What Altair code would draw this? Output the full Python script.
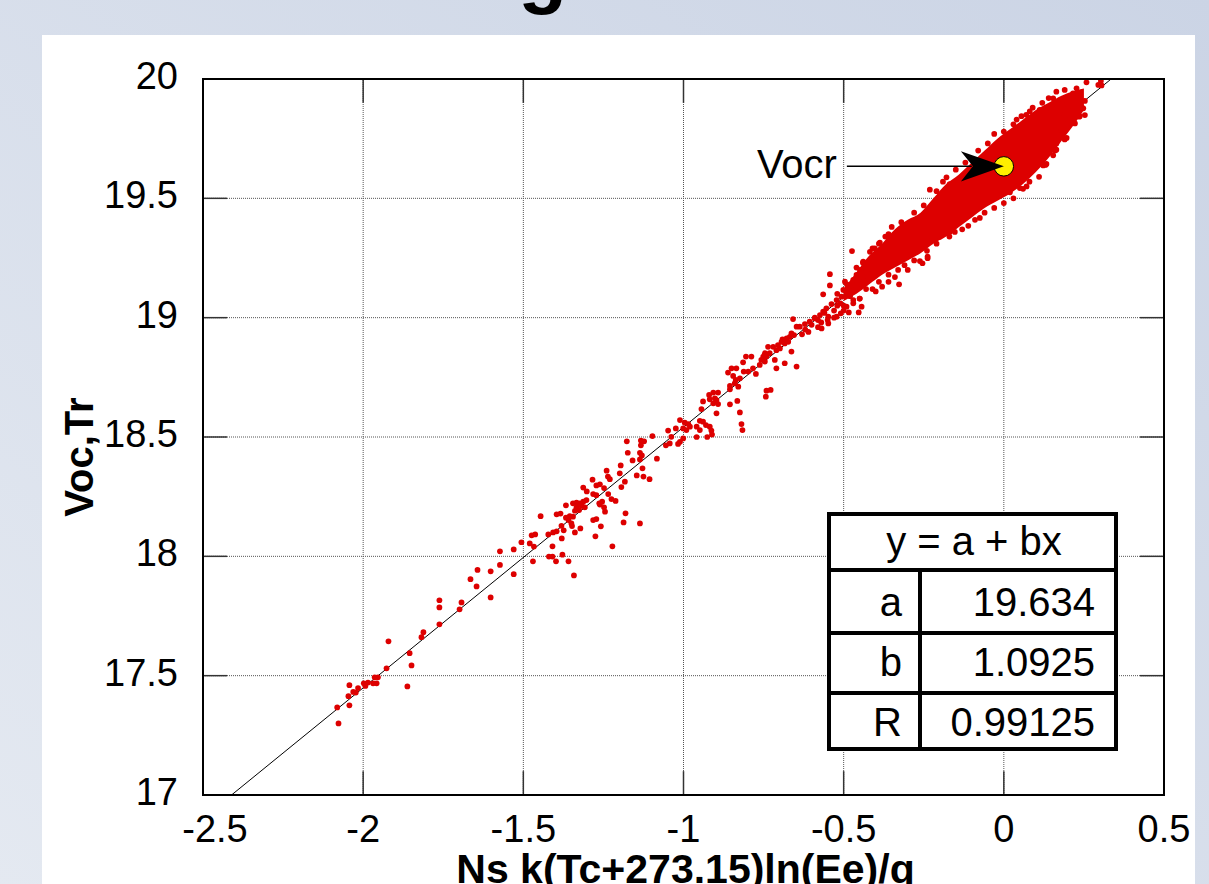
import altair as alt
import pandas as pd

# ---------------- data ----------------
x_ticks = [-2.5, -2.0, -1.5, -1.0, -0.5, 0.0, 0.5]
y_ticks = [17.0, 17.5, 18.0, 18.5, 19.0, 19.5, 20.0]
x_tick_labels = ["-2.5", "-2", "-1.5", "-1", "-0.5", "0", "0.5"]
y_tick_labels = ["17", "17.5", "18", "18.5", "19", "19.5", "20"]
x_title = "Ns k(Tc+273.15)ln(Ee)/q"
y_title = "Voc,Tr"
page_title = "Voc Regression"
fit_eq = "y = a + bx"
fit_names = ["a", "b", "R"]
fit_values = ["19.634", "1.0925", "0.99125"]
fit_a = 19.634
fit_b = 1.0925
vocr_label = "Vocr"
vocr_x = 0.0
vocr_y = 19.634

tail_pts = [
    (-1.573, 17.964), (-1.643, 17.943), (-1.602, 17.937), (-1.665, 17.904), (-1.646, 17.874),
    (-1.602, 17.828), (-1.762, 17.816), (-1.762, 17.786), (-1.693, 17.807), (-1.699, 17.778),
    (-1.762, 17.715), (-1.812, 17.682), (-1.818, 17.661), (-1.921, 17.644), (-1.855, 17.594),
    (-1.849, 17.543), (-1.927, 17.531), (-1.862, 17.455), (-1.964, 17.493), (-1.954, 17.493),
    (-1.998, 17.468), (-1.985, 17.471), (-1.969, 17.468), (-1.958, 17.468), (-1.993, 17.457),
    (-2.016, 17.448), (-2.031, 17.432), (-2.023, 17.429), (-2.043, 17.460), (-2.046, 17.414),
    (-2.043, 17.376), (-2.081, 17.367), (-2.077, 17.300),
]

lower_pts = [
    (-1.097, 18.504), (-1.133, 18.485), (-1.123, 18.482), (-1.177, 18.482), (-1.133, 18.465),
    (-1.136, 18.434), (-1.130, 18.423), (-1.174, 18.434), (-1.159, 18.402), (-1.136, 18.406),
    (-1.083, 18.409), (-1.128, 18.369), (-1.196, 18.381), (-1.240, 18.359), (-1.236, 18.334),
    (-1.230, 18.323), (-1.199, 18.348), (-1.146, 18.339), (-1.125, 18.334), (-1.106, 18.323),
    (-1.183, 18.313), (-1.284, 18.321), (-1.194, 18.290), (-1.313, 18.288), (-1.302, 18.272),
    (-1.272, 18.297), (-1.261, 18.302), (-1.248, 18.286), (-1.235, 18.261), (-1.282, 18.261),
    (-1.272, 18.256), (-1.225, 18.240), (-1.212, 18.232), (-1.254, 18.229), (-1.263, 18.222),
    (-1.248, 18.205), (-1.245, 18.187), (-1.261, 18.217), (-1.303, 18.236), (-1.313, 18.229),
    (-1.324, 18.222), (-1.334, 18.225), (-1.345, 18.222), (-1.318, 18.211), (-1.308, 18.205),
    (-1.326, 18.194), (-1.339, 18.191), (-1.334, 18.205), (-1.367, 18.214), (-1.396, 18.176),
    (-1.384, 18.179), (-1.367, 18.162), (-1.355, 18.169), (-1.345, 18.166), (-1.359, 18.152),
    (-1.350, 18.138), (-1.348, 18.127), (-1.339, 18.100), (-1.381, 18.128), (-1.374, 18.109),
    (-1.396, 18.105), (-1.407, 18.100), (-1.422, 18.092), (-1.282, 18.152), (-1.272, 18.156),
    (-1.258, 18.126), (-1.275, 18.084), (-1.181, 18.180), (-1.187, 18.142), (-1.136, 18.138),
    (-1.222, 18.042), (-1.322, 18.117), (-1.446, 18.168), (-1.463, 18.092), (-1.474, 18.088),
    (-1.380, 18.075), (-1.409, 18.042), (-1.506, 18.059), (-1.480, 18.054), (-1.467, 18.041),
    (-1.530, 18.029), (-1.573, 18.021), (-1.420, 17.999), (-1.409, 17.999), (-1.398, 17.979),
    (-1.378, 18.007), (-1.359, 17.979), (-1.342, 17.920), (-1.470, 17.979), (-1.530, 17.925),
]

mid_pts = [
    (-0.658, 18.994), (-0.647, 18.962), (-0.663, 18.934), (-0.655, 18.927), (-0.668, 18.920),
    (-0.678, 18.913), (-0.691, 18.909), (-0.673, 18.899), (-0.694, 18.899), (-0.684, 18.892),
    (-0.705, 18.885), (-0.720, 18.878), (-0.736, 18.878), (-0.699, 18.871), (-0.710, 18.864),
    (-0.663, 18.858), (-0.731, 18.851), (-0.746, 18.851), (-0.751, 18.837), (-0.741, 18.837),
    (-0.757, 18.823), (-0.746, 18.816), (-0.762, 18.802), (-0.715, 18.823), (-0.684, 18.809),
    (-0.647, 18.795), (-0.710, 18.788), (-0.788, 18.837), (-0.805, 18.837), (-0.814, 18.813),
    (-0.783, 18.788), (-0.798, 18.774), (-0.812, 18.774), (-0.774, 18.764), (-0.835, 18.788),
    (-0.850, 18.788), (-0.861, 18.770), (-0.845, 18.756), (-0.837, 18.739), (-0.824, 18.746),
    (-0.840, 18.725), (-0.855, 18.714), (-0.855, 18.700), (-0.829, 18.711), (-0.892, 18.686),
    (-0.907, 18.686), (-0.920, 18.676), (-0.902, 18.662), (-0.918, 18.658), (-0.897, 18.655),
    (-0.892, 18.638), (-0.907, 18.641), (-0.939, 18.649), (-0.944, 18.617), (-0.897, 18.599),
    (-0.855, 18.637), (-0.832, 18.651), (-0.824, 18.603), (-0.819, 18.554), (-0.816, 18.529),
    (-0.741, 18.694), (-0.728, 18.697), (-0.743, 18.669), (-1.011, 18.571), (-0.996, 18.560),
    (-0.985, 18.554), (-0.980, 18.543), (-0.991, 18.529), (-1.001, 18.536), (-0.949, 18.568),
    (-0.939, 18.564), (-0.930, 18.550), (-0.959, 18.543), (-0.949, 18.529), (-0.918, 18.543),
    (-0.913, 18.527), (-0.911, 18.510), (-0.926, 18.500), (-0.959, 18.500), (-1.001, 18.494),
    (-1.038, 18.501), (-1.048, 18.527), (-1.024, 18.536), (-1.011, 18.480), (-1.017, 18.471),
    (-1.043, 18.473), (-1.055, 18.465),
]

upper_pts = [
    (-0.543, 19.182), (-0.543, 19.135), (-0.564, 19.098), (-0.474, 19.279), (-0.444, 19.046),
    (-0.453, 19.022), (-0.484, 19.022), (-0.509, 19.018), (-0.327, 19.140), (-0.262, 19.237),
    (-0.238, 19.249), (-0.254, 19.228), (-0.200, 19.339), (-0.215, 19.346), (-0.236, 19.321),
    (-0.637, 18.962), (-0.621, 18.973), (-0.606, 18.983), (-0.590, 18.997), (-0.574, 19.011),
    (-0.564, 19.025), (-0.580, 18.990), (-0.554, 19.039), (-0.538, 19.057), (-0.522, 19.074),
    (-0.507, 19.088), (-0.501, 19.116), (-0.491, 19.102), (-0.486, 19.133), (-0.470, 19.158),
    (-0.460, 19.179), (-0.449, 19.200), (-0.439, 19.235), (-0.429, 19.221), (-0.418, 19.276),
    (-0.403, 19.290), (-0.387, 19.314), (-0.569, 18.955), (-0.548, 18.976), (-0.522, 19.004),
    (-0.491, 19.046), (-0.470, 19.074), (-0.548, 19.004), (-0.496, 19.151), (-0.325, 19.256),
    (-0.238, 19.256),
    (-0.62, 18.95), (-0.60, 18.97), (-0.59, 19.00), (-0.57, 18.98), (-0.56, 19.02),
    (-0.53, 19.03), (-0.52, 19.05), (-0.51, 19.06), (-0.50, 19.05), (-0.48, 19.09),
    (-0.47, 19.11), (-0.46, 19.13), (-0.45, 19.15), (-0.44, 19.17), (-0.43, 19.19),
    (-0.42, 19.18), (-0.63, 18.93), (-0.61, 18.94), (-0.58, 18.96), (-0.55, 18.99),
    (-0.53, 19.00), (-0.50, 19.03), (-0.47, 19.06), (-0.45, 19.08), (-0.43, 19.12),
    (-0.52, 19.10), (-0.49, 19.14), (-0.46, 19.21), (-0.40, 19.11), (-0.38, 19.13),
    (-0.36, 19.15), (-0.34, 19.17), (-0.30, 19.20), (-0.39, 19.31), (-0.36, 19.35),
]

cluster_pts = [
    (-0.231, 19.536), (-0.179, 19.588), (-0.169, 19.560), (-0.075, 19.418), (-0.111, 19.385),
    (-0.153, 19.359), (-0.169, 19.359), (0.019, 19.525), (0.050, 19.543), (0.071, 19.550),
    (0.091, 19.620), (0.123, 19.638), (0.133, 19.644), (0.154, 19.680), (0.164, 19.704),
    (0.164, 19.746), (0.196, 19.753), (-0.001, 19.524), (0.258, 19.986), (0.303, 19.992),
    (0.295, 19.975), (0.227, 19.961), (0.164, 19.947), (0.190, 19.954), (0.216, 19.940),
    (0.222, 19.905), (0.253, 19.908), (0.248, 19.877), (0.253, 19.849), (0.235, 19.842),
    (0.222, 19.814), (0.201, 19.814), (0.190, 19.747), (0.180, 19.786), (0.183, 19.765),
    (0.164, 19.730), (0.159, 19.703), (0.175, 19.856), (0.201, 19.884), (0.185, 19.912),
    (0.154, 19.919), (0.305, 19.973), (0.206, 19.844), (0.237, 19.844), (0.245, 19.879),
    (0.227, 19.941), (0.170, 19.871), (0.112, 19.871), (0.081, 19.864), (0.055, 19.844),
    (0.133, 19.880), (0.154, 19.895),
]

edge_pts = [
    (-0.44, 19.23), (-0.41, 19.29), (-0.37, 19.34), (-0.35, 19.38), (-0.32, 19.40),
    (-0.28, 19.44), (-0.25, 19.47), (-0.21, 19.53), (-0.19, 19.57), (-0.15, 19.62),
    (-0.12, 19.65), (-0.08, 19.70), (-0.05, 19.73), (-0.03, 19.77), (0.00, 19.78),
    (0.03, 19.81), (0.04, 19.83), (0.07, 19.85), (0.09, 19.88), (0.12, 19.90),
    (0.14, 19.92), (-0.45, 19.08), (-0.41, 19.12), (-0.39, 19.15), (-0.36, 19.18),
    (-0.33, 19.20), (-0.31, 19.22), (-0.28, 19.24), (-0.24, 19.28), (-0.21, 19.31),
    (-0.17, 19.34), (-0.13, 19.37), (-0.09, 19.41), (-0.06, 19.44), (-0.03, 19.46),
    (0.00, 19.48), (0.03, 19.50), (0.06, 19.54), (0.08, 19.57), (0.11, 19.59),
    (0.13, 19.64), (0.16, 19.70), (0.19, 19.75),
]

# dense (solid) core of the cloud: lower / upper edge
band_x = [-0.50, -0.46, -0.42, -0.38, -0.34, -0.30, -0.26, -0.22, -0.18,
          -0.14, -0.10, -0.06, -0.02, 0.02, 0.06, 0.10, 0.14, 0.18, 0.22, 0.25]
band_lo = [19.07, 19.10, 19.14, 19.18, 19.21, 19.24, 19.27, 19.31, 19.34,
           19.38, 19.42, 19.46, 19.49, 19.52, 19.56, 19.61, 19.67, 19.74, 19.81, 19.87]
band_hi = [19.12, 19.19, 19.26, 19.31, 19.37, 19.41, 19.44, 19.50, 19.56,
           19.60, 19.65, 19.70, 19.75, 19.79, 19.83, 19.87, 19.90, 19.93, 19.95, 19.96]

# ---------------- layout / style constants ----------------
W, H = 961, 716
PAD_L, PAD_T = 203, 79
FONT = "Liberation Sans"
RED = "#dd0000"
x_tick_len = 0.075   # inner tick length in x units (about 24 px)
y_tick_len = 0.10    # inner tick length in y units (about 24 px)

xs = alt.Scale(domain=[x_ticks[0], x_ticks[-1]], nice=False, zero=False)
ys = alt.Scale(domain=[y_ticks[0], y_ticks[-1]], nice=False, zero=False)


def X(f, **kw):
    return alt.X(f, type="quantitative", scale=xs, axis=None, **kw)


def Y(f, **kw):
    return alt.Y(f, type="quantitative", scale=ys, axis=None, **kw)


one = pd.DataFrame({"k": [0]})

# background of the slide (gradient) and white panel
bg = alt.Chart(one).mark_rect(
    color=alt.Gradient(
        gradient="linear",
        stops=[alt.GradientStop(offset=0, color="#cbd4e5"),
               alt.GradientStop(offset=1, color="#e4e9f1")],
        x1=1, y1=0, x2=0, y2=1,
    )
).encode(x=alt.value(-PAD_L), x2=alt.value(1209 - PAD_L + 5),
         y=alt.value(-PAD_T), y2=alt.value(884 - PAD_T + 5))

panel = alt.Chart(one).mark_rect(color="white").encode(
    x=alt.value(42 - PAD_L), x2=alt.value(1195 - PAD_L),
    y=alt.value(35 - PAD_T), y2=alt.value(884 - PAD_T + 5))

title_txt = alt.Chart(one).mark_text(
    text=page_title, font=FONT, fontSize=80, fontWeight="bold", color="black",
    align="left", baseline="alphabetic"
).encode(x=alt.value(253 - PAD_L), y=alt.value(-2 - PAD_T))

# grid lines (dotted)
gx = pd.DataFrame({"gx": x_ticks[1:-1], "y0": y_ticks[0], "y1": y_ticks[-1]})
gy = pd.DataFrame({"gy": y_ticks[1:-1], "x0": x_ticks[0], "x1": x_ticks[-1]})
grid_x = alt.Chart(gx).mark_rule(color="#555555", strokeWidth=1, strokeDash=[1, 1]).encode(
    x=X("gx"), y=Y("y0"), y2="y1")
grid_y = alt.Chart(gy).mark_rule(color="#555555", strokeWidth=1, strokeDash=[1, 1]).encode(
    y=Y("gy"), x=X("x0"), x2="x1")

# inner solid ticks on the four sides
tk_top = pd.DataFrame({"gx": x_ticks[1:-1], "a": y_ticks[-1] - y_tick_len, "b": y_ticks[-1]})
tk_bot = pd.DataFrame({"gx": x_ticks[1:-1], "a": y_ticks[0], "b": y_ticks[0] + y_tick_len})
tk_lef = pd.DataFrame({"gy": y_ticks[1:-1], "a": x_ticks[0], "b": x_ticks[0] + x_tick_len})
tk_rig = pd.DataFrame({"gy": y_ticks[1:-1], "a": x_ticks[-1] - x_tick_len, "b": x_ticks[-1]})
tick_style = dict(color="#333333", strokeWidth=1.5)
ticks_v = [alt.Chart(d).mark_rule(**tick_style).encode(x=X("gx"), y=Y("a"), y2="b")
           for d in (tk_top, tk_bot)]
ticks_h = [alt.Chart(d).mark_rule(**tick_style).encode(y=Y("gy"), x=X("a"), x2="b")
           for d in (tk_lef, tk_rig)]

# tick labels and axis titles (placed through the scales)
xl_df = pd.DataFrame({"v": x_ticks[1:], "t": x_tick_labels[1:]})
xl0_df = pd.DataFrame({"v": x_ticks[:1], "t": x_tick_labels[:1]})
yl_df = pd.DataFrame({"v": y_ticks, "t": y_tick_labels})
xlab_style = dict(font=FONT, fontSize=38, color="black", align="center", baseline="alphabetic")
x_labels = alt.Chart(xl_df).mark_text(**xlab_style).encode(
    x=X("v"), y=alt.value(H + 47), text="t:N")
x_label0 = alt.Chart(xl0_df).mark_text(dx=12, **xlab_style).encode(
    x=X("v"), y=alt.value(H + 47), text="t:N")
y_labels = alt.Chart(yl_df).mark_text(
    font=FONT, fontSize=38, color="black", align="right", baseline="alphabetic", dy=10
).encode(y=Y("v"), x=alt.value(-25), text="t:N")
x_title_txt = alt.Chart(one).mark_text(
    text=x_title, font=FONT, fontSize=41, fontWeight="bold", color="black",
    align="center", baseline="alphabetic"
).encode(x=alt.value(W / 2 + 2), y=alt.value(H + 88))
y_title_txt = alt.Chart(one).mark_text(
    text=y_title, font=FONT, fontSize=40, fontWeight="bold", color="black",
    align="center", baseline="alphabetic", angle=270
).encode(x=alt.value(-110), y=alt.value(378))

# regression line
fit_df = pd.DataFrame({"x": [x_ticks[0], x_ticks[-1]]})
fit_df["y"] = fit_a + fit_b * fit_df["x"]
fit_line = alt.Chart(fit_df).mark_line(color="black", strokeWidth=1, clip=True).encode(
    x=X("x"), y=Y("y"))

# dense core
band_df = pd.DataFrame({"x": band_x, "lo": band_lo, "hi": band_hi})
band = alt.Chart(band_df).mark_area(color=RED, opacity=1, interpolate="monotone").encode(
    x=X("x"), y=Y("lo"), y2="hi")

# scatter points
all_pts = tail_pts + lower_pts + mid_pts + upper_pts + cluster_pts + edge_pts
pts_df = pd.DataFrame(all_pts, columns=["x", "y"])
points = alt.Chart(pts_df).mark_circle(color=RED, size=33, opacity=1).encode(
    x=X("x"), y=Y("y"))

# Vocr annotation
vocr_df = pd.DataFrame({"x": [vocr_x], "y": [vocr_y]})
arrow_shaft = pd.DataFrame({"x": [vocr_x - 0.49], "x2": [vocr_x - 0.10], "y": [vocr_y]})
shaft = alt.Chart(arrow_shaft).mark_rule(color="black", strokeWidth=1.5).encode(
    x=X("x"), x2="x2", y=Y("y"))
circle = alt.Chart(vocr_df).mark_point(
    shape="circle", filled=True, fill="#ffee00", stroke="black", strokeWidth=1,
    size=380, opacity=1).encode(x=X("x"), y=Y("y"))
arrow_df = pd.DataFrame({"x": [vocr_x - 0.067], "y": [vocr_y]})
arrow_head = alt.Chart(arrow_df).mark_point(
    shape="M1,0 L-1,-0.7 L-0.44,0 L-1,0.7 Z", filled=True, color="black",
    size=1849, opacity=1).encode(x=X("x"), y=Y("y"))
label_df = pd.DataFrame({"x": [vocr_x - 0.521], "y": [vocr_y], "t": [vocr_label]})
vocr_text = alt.Chart(label_df).mark_text(
    font=FONT, fontSize=40, color="black", align="right", baseline="alphabetic", dy=12
).encode(x=X("x"), y=Y("y"), text="t:N")

# fit table (pixel layout inside the plot)
T_L, T_R, T_T, T_B = 626, 913, 435, 670
ROW_Y = [491, 554, 614]
COL_X = 717
table_box = alt.Chart(one).mark_rect(fill="white", stroke="black", strokeWidth=4).encode(
    x=alt.value(T_L), x2=alt.value(T_R), y=alt.value(T_T), y2=alt.value(T_B))
hl_df = pd.DataFrame({"y": ROW_Y})
hlines = alt.Chart(hl_df).mark_rule(color="black", strokeWidth=4).encode(
    y=alt.Y("y:Q", scale=None, axis=None), x=alt.value(T_L), x2=alt.value(T_R))
vline = alt.Chart(one).mark_rule(color="black", strokeWidth=4).encode(
    x=alt.value(COL_X), y=alt.value(ROW_Y[0]), y2=alt.value(T_B))
head_df = pd.DataFrame({"t": [fit_eq]})
head_txt = alt.Chart(head_df).mark_text(
    font=FONT, fontSize=40, color="black", align="center", baseline="alphabetic"
).encode(x=alt.value(771), y=alt.value(476), text="t:N")
rows_df = pd.DataFrame({"name": fit_names, "val": fit_values, "py": [537, 597, 657]})
name_txt = alt.Chart(rows_df).mark_text(
    font=FONT, fontSize=40, color="black", align="right", baseline="alphabetic"
).encode(x=alt.value(699), y=alt.Y("py:Q", scale=None, axis=None), text="name:N")
val_txt = alt.Chart(rows_df).mark_text(
    font=FONT, fontSize=40, color="black", align="right", baseline="alphabetic"
).encode(x=alt.value(892), y=alt.Y("py:Q", scale=None, axis=None), text="val:N")

# plot frame
frame_df = pd.DataFrame({"x": [x_ticks[0]], "x2": [x_ticks[-1]],
                         "y": [y_ticks[0]], "y2": [y_ticks[-1]]})
frame = alt.Chart(frame_df).mark_rect(fillOpacity=0, stroke="black", strokeWidth=2).encode(
    x=X("x"), x2="x2", y=Y("y"), y2="y2")

chart = alt.layer(
    bg, panel, title_txt, grid_x, grid_y, *ticks_v, *ticks_h, fit_line, band, points,
    shaft, circle, arrow_head, vocr_text,
    table_box, hlines, vline, head_txt, name_txt, val_txt, frame,
    x_labels, x_label0, y_labels, x_title_txt, y_title_txt,
).properties(
    width=W, height=H,
    autosize=alt.AutoSizeParams(type="none"),
    padding={"left": PAD_L, "top": PAD_T, "right": 1209 - PAD_L - W, "bottom": 884 - PAD_T - H},
    background="#cdd6e6",
).configure_view(stroke=None)

chart.save("out.html", embed_options={"renderer": "svg", "actions": False})
